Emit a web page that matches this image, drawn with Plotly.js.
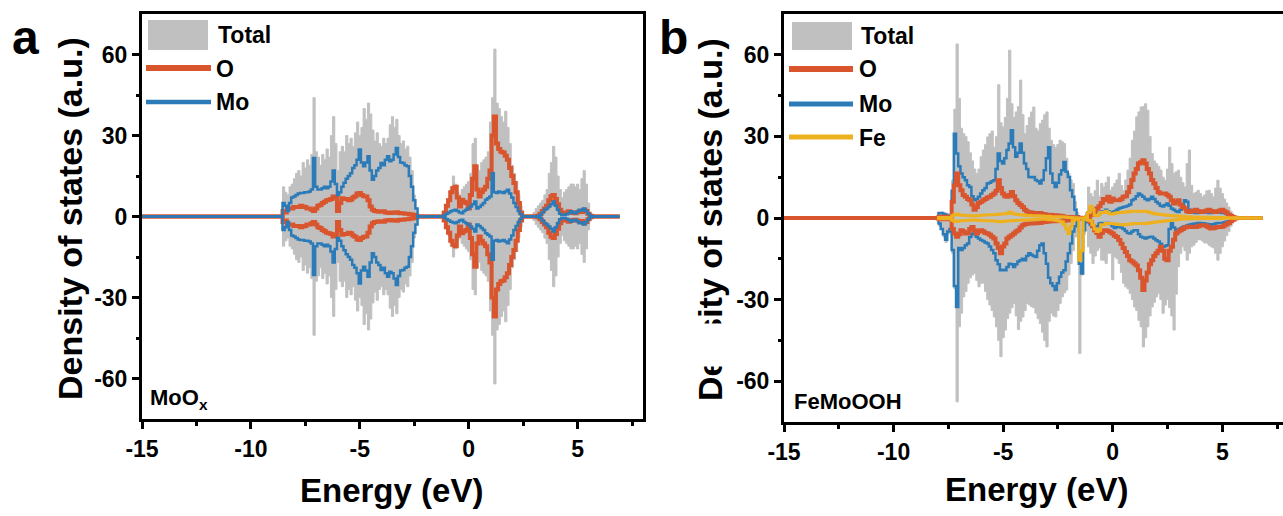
<!DOCTYPE html>
<html>
<head>
<meta charset="utf-8">
<script src="https://cdn.plot.ly/plotly-3.0.1.min.js"></script>
<style>
  html, body { margin: 0; padding: 0; background: #ffffff; }
  #chart { width: 1283px; height: 516px; }
</style>
</head>
<body>
<div id="chart"></div>
<script>
// ---------------- DATA ----------------
// Panel a: MoOx (spin-up values; spin-down is the mirror image in the figure)
const E_A = [
-8.6,-8.5,-8.4,-8.3,-8.2,-8.1,-8.0,-7.9,-7.8,-7.7,
-7.6,-7.5,-7.4,-7.3,-7.2,-7.1,-7.0,-6.9,-6.8,-6.7,
-6.6,-6.5,-6.4,-6.3,-6.2,-6.1,-6.0,-5.9,-5.8,-5.7,
-5.6,-5.5,-5.4,-5.3,-5.2,-5.1,-5.0,-4.9,-4.8,-4.7,
-4.6,-4.5,-4.4,-4.3,-4.2,-4.1,-4.0,-3.9,-3.8,-3.7,
-3.6,-3.5,-3.4,-3.3,-3.2,-3.1,-3.0,-2.9,-2.8,-2.7,
-2.6,-2.5,-2.4,-2.3,-2.2,-2.1,-2.0,-1.9,-1.8,-1.7,
-1.6,-1.5,-1.4,-1.3,-1.2,-1.1,-1.0,-0.9,-0.8,-0.7,
-0.6,-0.5,-0.4,-0.3,-0.2,-0.1,0.0,0.1,0.2,0.3,
0.4,0.5,0.6,0.7,0.8,0.9,1.0,1.1,1.2,1.3,
1.4,1.5,1.6,1.7,1.8,1.9,2.0,2.1,2.2,2.3,
2.4,2.5,2.6,2.7,2.8,2.9,3.0,3.1,3.2,3.3,
3.4,3.5,3.6,3.7,3.8,3.9,4.0,4.1,4.2,4.3,
4.4,4.5,4.6,4.7,4.8,4.9,5.0,5.1,5.2,5.3,
5.4,5.5,5.6,5.7];
const A_TOTAL = [
0,11,9,8,11,12,14,16,17,15,
20,18,21,19,23,44,24,22,19,23,
21,25,22,30,37,27,17,24,26,24,
30,27,29,26,31,35,30,33,40,36,
42,38,32,28,31,27,26,29,27,29,
34,37,33,36,30,27,28,25,26,22,
17,8,2,0,0,0,0,0,0,0,
0,0,0,0,0,1.5,4,7,11,15,
12,9,8,10,11,12,13,16,27,29,
19,17,20,21,22,24,35,44,62,42,
40,37,35,39,33,27,19,16,13,8,
4,0,0,0,0,0.5,1.5,3,4,5,
6,8,10,16,20,26,22,15,10,7,
9,10,11,12,12,11,12,10,14,17,
12,5,1,0];
const A_O = [
0,2,1.5,3,3,3,3.5,3.5,3.5,4,
3.7,3.5,3,3,2.5,2,3,4,4.3,5,
5.5,6,6.2,6.5,7.4,7,2,5,6.8,6.5,
6.5,6,6.2,7,7.5,8.5,8.7,8,7.5,7.4,
6,3.7,2.5,2,1.9,1.8,1.9,1.9,1.5,1.4,
1.3,1.5,1.4,1.6,1.3,1.2,1.2,1,1,0.8,
0.7,0.6,0.3,0,0,0,0,0,0,0,
0,0,0,0,0,1.5,4,6,9,10.5,
11,7,3.7,6.2,5.5,5,3,8,14,18.6,
10,7.4,9,10,11,14,17,30,37,27,
25,24,23.7,22.5,21,18,15,12.4,9,5,
1.5,0,0,0,0,0,0,0,0.3,1,
2,3,4,6,7.5,8,6.5,4.5,2.5,1.5,
1.2,1.5,1.9,1.6,1.3,1.2,1.6,1.9,1.7,2.5,
2,1,0.3,0];
const A_MO = [
0,5,4,2,5,7,7.4,8,8.5,8.7,
8.7,9,9,9.3,10,21.7,11,10,10,10.5,
11,10.5,11,13,17,12,8,9,11,12.5,
14,15,16,18,19,21,24.8,20,18.6,20,
22.3,17,13.6,15,17,18,19.8,19,21,22.3,
20.5,21,23,25.4,22,20,19.8,19,18.6,15,
11,6,3,0,0,0,0,0,0,0,
0,0,0,0,0,0.5,1,1.5,1.9,2.2,
2.5,2,1.5,1.2,2,2.5,3,3.7,4.5,5.6,
3,3.5,4.3,5,6.2,6.8,7.4,16,9,8.7,
9.3,9,8.7,9.3,9.9,8.5,7,5,3.5,2,
0.8,0,0,0,0,0,0,0,0.2,0.6,
1.5,2.5,3,3.7,4.5,5.6,4,2.5,1,0.6,
0.6,0.8,1.2,1.9,1.5,1.2,1.8,2.5,2.2,3,
2,1,0.3,0];

// Panel b: FeMoOOH (spin-up and spin-down)
const E_B = [
-8.0,-7.9,-7.8,-7.7,-7.6,-7.5,-7.4,-7.3,-7.2,-7.1,
-7.0,-6.9,-6.8,-6.7,-6.6,-6.5,-6.4,-6.3,-6.2,-6.1,
-6.0,-5.9,-5.8,-5.7,-5.6,-5.5,-5.4,-5.3,-5.2,-5.1,
-5.0,-4.9,-4.8,-4.7,-4.6,-4.5,-4.4,-4.3,-4.2,-4.1,
-4.0,-3.9,-3.8,-3.7,-3.6,-3.5,-3.4,-3.3,-3.2,-3.1,
-3.0,-2.9,-2.8,-2.7,-2.6,-2.5,-2.4,-2.3,-2.2,-2.1,
-2.0,-1.9,-1.8,-1.7,-1.6,-1.5,-1.4,-1.3,-1.2,-1.1,
-1.0,-0.9,-0.8,-0.7,-0.6,-0.5,-0.4,-0.3,-0.2,-0.1,
0.0,0.1,0.2,0.3,0.4,0.5,0.6,0.7,0.8,0.9,
1.0,1.1,1.2,1.3,1.4,1.5,1.6,1.7,1.8,1.9,
2.0,2.1,2.2,2.3,2.4,2.5,2.6,2.7,2.8,2.9,
3.0,3.1,3.2,3.3,3.4,3.5,3.6,3.7,3.8,3.9,
4.0,4.1,4.2,4.3,4.4,4.5,4.6,4.7,4.8,4.9,
5.0,5.1,5.2,5.3,5.4,5.5,5.6,5.7];
const B_TOTAL_UP = [
0,1.5,2.2,2,1.8,1.5,1,14,40,64,
44,33,31,30,28,24,21,18,16.4,18,
22.5,25,27,29.8,31,32,26,30,49,35,
33.5,37,44,61.7,42,37,39,41,50.7,38,
31,34,37,39,40.8,33,32,34.7,36,38,
39,33,28.6,27,26,27,28.6,28,27.4,22,
16.4,14,12.7,6,2,0.5,0.3,0.2,2,11.4,
9,7.8,10,13.9,8,12.7,11.4,13,15.1,10.2,
11.4,12.7,14,16.4,12,10.2,14,17.6,22,28.6,
32,37.2,39,40.8,41,42,39.6,30,23.7,21,
20,19,17.6,15,13.9,18,26,20,16.4,17,
17.6,15,13,11.4,20,25,12,9,9.5,10.2,
9,7.8,8.5,10,10.2,9,7.8,11,13.9,11,
9,7,5.5,4,2.5,0.5,0.2,0];
const B_TOTAL_DN = [
0,-3,-3.5,-7,-9,-6,-4.5,-13,-26,-67.6,
-40,-35,-29,-27,-24,-22,-21,-20.4,-23,-25.3,
-24,-24,-27,-30,-32,-34,-36.4,-40,-45,-51,
-44,-41.2,-37,-35,-33,-31.4,-36,-41,-38,-36.4,
-34,-31.4,-32,-32.6,-33,-35,-37,-38.8,-42,-45,
-47.4,-38,-35,-36,-36.4,-34,-31.4,-29,-27.5,-26.5,
-21,-16.7,-12,-7,-5,-49.8,-21,-6,-2,-10.6,
-13,-16.7,-14,-12,-11,-15.5,-15.5,-16.7,-13,-13,
-22.7,-14.3,-15,-16.7,-20,-24,-25.3,-26,-27.7,-30,
-32.7,-34,-37.6,-40,-47.4,-44,-40,-36,-32.7,-31,
-29,-27.7,-30,-35,-32,-30,-33,-36,-41.2,-28,
-17.9,-13,-10.6,-12,-15.5,-13,-10.6,-10,-9,-8,
-8,-8.5,-9.2,-9.2,-10,-10.6,-11,-13,-15.5,-13,
-10.6,-8.5,-6.5,-5,-3,-0.6,-0.2,0];
const B_O_UP = [
0,0.5,0.5,0.5,0.5,0.5,0.5,6,12,16.4,
12,10.2,8.5,7.8,7,6.5,5,3,4,5.5,
6,6.5,7,7.5,7.8,8.5,9,10,13.9,11,
9,8,7.8,8.5,9.6,8,6.5,5.5,4.8,4,
3,2.4,2.1,2,1.8,1.8,1.8,1.8,1.5,1.4,
1.2,1.2,1.1,1,1,0.9,0.8,0.7,0.5,0.4,
0.4,0.4,0.3,0.3,0.2,0.1,0,0,0,0.5,
1,1.2,2.5,3.5,4.3,5.5,7,6.5,7.8,6,
7.2,6.5,6.5,6.5,7,7.8,8,9.5,11.4,14,
16.4,18,20,20.5,21.2,20,18,16.4,14,12.7,
11,9.5,9,9,9,8.5,7.8,6.5,5.3,6,
6.5,5,4,3.5,2.5,2.2,2.5,2.8,3,2.6,
2.3,2.2,2.5,2.8,3,2.6,2.3,2.2,2.5,2.8,
3,2.5,2,1.2,0.8,0.4,0.1,0];
const B_O_DN = [
0,-0.5,-0.5,-0.5,-0.5,-0.5,-0.5,-4,-5.7,-6.9,
-6,-4.5,-5,-5.7,-5.5,-4,-3.3,-4.5,-5.7,-5,
-4.5,-5,-5.5,-5.7,-6.2,-6.9,-7.5,-9.4,-11,-13,
-10.5,-9.4,-7.5,-6.9,-6.3,-5.7,-5,-4.5,-3.5,-2.7,
-2.3,-2.1,-2,-2,-1.9,-1.9,-1.8,-1.8,-1.6,-1.5,
-1.4,-1.3,-1.2,-1.2,-1.2,-1.1,-1.1,-1,-1,-0.9,
-0.8,-0.7,-0.6,-0.5,-0.3,-0.2,0,0,0,-0.5,
-1.5,-3,-4.5,-5.5,-6.9,-5.5,-4.5,-4.5,-4.8,-5.2,
-5.7,-6.5,-7,-8.1,-9.5,-11,-12.5,-14,-15.5,-16,
-16.7,-17.5,-19.2,-22,-26.5,-23,-20,-17,-15.5,-14,
-13,-12,-10.6,-12,-15,-15.5,-12,-10.6,-8,-5.7,
-5,-4.5,-4,-3.5,-3.3,-3.2,-3.3,-3.3,-3.3,-3,
-2.8,-2.7,-2.7,-3,-3.5,-3.9,-3.8,-3.5,-3.3,-3.3,
-3.2,-2.8,-2.3,-1.8,-1.2,-0.6,-0.2,0];
const B_MO_UP = [
0,1.8,1.8,1.5,1.2,0.8,0.3,10,31,23.7,
19,16.4,15,13.9,12,11.4,8,6.5,7,7.8,
9,10.2,11,12.7,13,13.5,13.9,18,23.7,21,
20,22,25,27.4,32.3,26,22.5,24,27.4,24,
20,18,15.1,15,15.1,14,13.5,12.7,14,17.6,
22,26,16.4,13,11.4,13,16,17.6,20.6,17,
15.1,10.2,7.8,3,0.6,0.3,0.2,0,0.5,1.5,
3,3,2,1,1.5,2.4,2.4,3,2.5,2,
2.2,2.5,3,3.5,3.8,4,4.2,4.5,5,6.5,
7,8,9,8.5,7.8,7,6.5,7,7.8,7,
6,5.3,4.5,4.2,4.8,5.3,4.5,3.5,3,2.5,
2.2,3,5,6.5,6,3,2.2,2,1.8,1.8,
1.9,2,2.2,2,1.8,1.8,2,2.2,2.2,2,
1.8,1.8,1.5,1.2,0.9,0.4,0.1,0];
const B_MO_DN = [
0,-2,-4,-6,-8,-5,-4,-11.8,-25,-32.7,
-11,-11.8,-11,-10,-9.4,-7,-5.7,-6,-6.9,-7.5,
-8.1,-8.5,-9,-9.4,-10.5,-11.8,-13,-15.5,-17,-19.2,
-19,-19.2,-18,-16.8,-17,-18,-17,-16,-15.5,-15,
-15.5,-14,-13,-13.5,-14,-14.3,-12,-10,-9.4,-13,
-16.8,-22,-24,-25,-26.5,-24,-21.6,-20,-19.2,-16,
-13,-9.4,-5,-3,-1,-16.8,-20.4,-4.5,-0.5,-1.5,
-2.5,-3,-3,-3,-2,-1.8,-1.8,-1.8,-1.8,-2.2,
-3,-3.7,-3.3,-3.3,-3.5,-4,-4.8,-5.5,-5.7,-5,
-4.5,-4.5,-6,-6.9,-7.2,-7.5,-7.2,-7,-6.9,-7.5,
-8.2,-8.6,-9.5,-10.6,-10.3,-10,-4,-1.8,-3.5,-4.5,
-4.2,-3.8,-3.3,-3,-2.8,-2.5,-2.3,-2.1,-2,-1.8,
-1.8,-1.9,-2,-2.2,-2.3,-2.5,-2.3,-2,-1.8,-1.8,
-1.8,-1.6,-1.4,-1.2,-0.8,-0.4,-0.1,0];
const B_FE_UP = [
0,0.2,0.2,0.2,0.2,0.2,0.2,0.8,1.2,1.5,
1.2,1,1,0.9,0.9,0.8,0.8,0.7,0.8,0.9,
1,1,1.1,1.1,1.2,1.2,1.2,1.3,1.4,1.5,
1.5,1.6,1.7,2.2,1.8,1.5,1.4,1.3,1.2,1.1,
1,0.9,0.9,0.8,0.8,0.8,0.8,0.7,0.7,0.6,
0.6,0.6,0.5,0.5,0.5,0.5,0.5,0.5,0.4,0.3,
0.2,0.2,0.1,0.1,0,0,0,0,0.5,2,
4.3,3,1,0.8,1.5,2,2,2.5,2,1.5,
1.5,1.7,1.9,2,2,2.1,2.2,2.3,2.4,2.5,
2.5,2.5,2.4,2.4,2.5,2.5,2.3,2,1.8,1.6,
1.5,1.4,1.3,1.2,1.1,1,0.9,0.8,0.8,0.7,
0.7,0.6,0.6,0.5,0.5,0.5,0.4,0.4,0.4,0.3,
0.3,0.3,0.3,0.3,0.3,0.2,0.2,0.2,0.2,0.2,
0.2,0.2,0.1,0.1,0.1,0.1,0,0];
const B_FE_DN = [
0,-0.3,-0.3,-0.3,-0.3,-0.3,-0.3,-0.8,-1.2,-1.3,
-1.1,-1,-0.9,-0.9,-0.8,-0.8,-0.7,-0.7,-0.8,-0.8,
-0.9,-0.9,-1,-1,-1,-1.1,-1.1,-1.2,-1.3,-1.4,
-1.3,-1.2,-1.1,-1,-1,-0.9,-0.9,-0.8,-0.8,-0.7,
-0.7,-0.7,-0.6,-0.6,-0.6,-0.6,-0.5,-0.5,-0.5,-0.5,
-0.5,-0.6,-0.6,-0.7,-0.8,-1,-1.2,-1.5,-2.5,-4,
-5.7,-3,-1,-0.5,-0.3,-15.5,-12,-0.5,-0.3,-0.8,
-1,-2.5,-4,-5,-4.5,-2.5,-2.5,-2,-2,-2,
-2,-2.2,-2.3,-2.4,-2.5,-2.5,-2.4,-2.3,-2.2,-2.1,
-2,-2,-2,-2,-2,-2,-1.9,-1.8,-1.7,-1.6,
-1.5,-1.4,-1.3,-1.2,-1.1,-1,-0.9,-0.8,-0.7,-0.6,
-0.5,-0.5,-0.4,-0.4,-0.4,-0.3,-0.3,-0.3,-0.3,-0.3,
-0.2,-0.2,-0.2,-0.2,-0.2,-0.2,-0.2,-0.2,-0.2,-0.2,
-0.2,-0.1,-0.1,-0.1,-0.1,-0.1,0,0];

const X_START = -15;          // flat zero segment starts here
const A_X_END = 6.93, B_X_END = 6.83;

const X_TICKS = [-15, -10, -5, 0, 5];
const X_TICK_TEXT = ['-15', '-10', '-5', '0', '5'];
const X_MINOR = [-12.5, -7.5, -2.5, 2.5, 7.5];
const Y_TICKS = [-60, -30, 0, 30, 60];
const Y_TICK_TEXT = ['-60', '-30', '0', '30', '60'];
const Y_MINOR = [-45, -15, 15, 45];

const LEGEND_A = ['Total', 'O', 'Mo'];
const LEGEND_B = ['Total', 'O', 'Mo', 'Fe'];

// ---------------- CHECKS ----------------
[[A_TOTAL,'A_TOTAL'],[A_O,'A_O'],[A_MO,'A_MO']].forEach(([a,n]) => {
  if (a.length !== E_A.length) throw new Error(n + ' length ' + a.length + ' != ' + E_A.length);
});
[[B_TOTAL_UP,'B_TOTAL_UP'],[B_TOTAL_DN,'B_TOTAL_DN'],[B_O_UP,'B_O_UP'],[B_O_DN,'B_O_DN'],
 [B_MO_UP,'B_MO_UP'],[B_MO_DN,'B_MO_DN'],[B_FE_UP,'B_FE_UP'],[B_FE_DN,'B_FE_DN']].forEach(([a,n]) => {
  if (a.length !== E_B.length) throw new Error(n + ' length ' + a.length + ' != ' + E_B.length);
});

// ---------------- STYLE ----------------
const W = 1283, H = 516;
const GREY = '#C0C0C0', ORANGE = '#D9552E', BLUE = '#2B7BB9', YELLOW = '#EDB120';
const FONT = 'Liberation Sans, Arial, sans-serif';
const px = v => v / W;
const py = v => 1 - v / H;

function series(E, vals, xEnd, withStart) {
  const x = (withStart ? [X_START] : []).concat(E, [xEnd]);
  const y = (withStart ? [0] : []).concat(vals, [0]);
  return {x, y};
}
const neg = a => a.map(v => -v);

function fillTrace(d, xa, ya) {
  return {x: d.x, y: d.y, xaxis: xa, yaxis: ya, type: 'scatter', mode: 'lines',
    fill: 'tozeroy', fillcolor: GREY, line: {color: GREY, width: 1, shape: 'hvh'}, hoverinfo: 'skip', showlegend: false};
}
function lineTrace(d, xa, ya, color, width) {
  return {x: d.x, y: d.y, xaxis: xa, yaxis: ya, type: 'scatter', mode: 'lines',
    line: {color: color, width: width, shape: 'hvh'}, hoverinfo: 'skip', showlegend: false};
}

const traces = [
  // panel a
  fillTrace(series(E_A, A_TOTAL, A_X_END, true), 'x', 'y'),
  fillTrace(series(E_A, neg(A_TOTAL), A_X_END, true), 'x', 'y'),
  lineTrace(series(E_A, A_O, A_X_END, true), 'x', 'y', ORANGE, 4),
  lineTrace(series(E_A, neg(A_O), A_X_END, true), 'x', 'y', ORANGE, 4),
  lineTrace(series(E_A, A_MO, A_X_END, true), 'x', 'y', BLUE, 2.5),
  lineTrace(series(E_A, neg(A_MO), A_X_END, true), 'x', 'y', BLUE, 2.5),
  // panel b
  fillTrace(series(E_B, B_TOTAL_UP, B_X_END, true), 'x2', 'y2'),
  fillTrace(series(E_B, B_TOTAL_DN, B_X_END, true), 'x2', 'y2'),
  lineTrace(series(E_B, B_MO_UP, B_X_END, true), 'x2', 'y2', BLUE, 2.5),
  lineTrace(series(E_B, B_MO_DN, B_X_END, true), 'x2', 'y2', BLUE, 2.5),
  lineTrace(series(E_B, B_O_UP, B_X_END, true), 'x2', 'y2', ORANGE, 4),
  lineTrace(series(E_B, B_O_DN, B_X_END, true), 'x2', 'y2', ORANGE, 4),
  lineTrace(series(E_B, B_FE_UP, B_X_END, false), 'x2', 'y2', YELLOW, 3),
  lineTrace(series(E_B, B_FE_DN, B_X_END, false), 'x2', 'y2', YELLOW, 3)
];

const tickFont = {family: FONT, size: 23, color: '#000', weight: 'bold'};
function xAxis(domain, range, anchor) {
  return {domain, range, anchor, showline: true, linewidth: 3, linecolor: '#000', mirror: true,
    showgrid: false, zeroline: false, ticks: 'outside', ticklen: 7, tickwidth: 3, tickcolor: '#000',
    tickvals: X_TICKS, ticktext: X_TICK_TEXT, tickfont: tickFont, ticklabelstandoff: 0,
    minor: {tickvals: X_MINOR, ticks: 'outside', ticklen: 3.5, tickwidth: 3, tickcolor: '#000', showgrid: false},
    fixedrange: true};
}
function yAxis(domain, anchor, mirror) {
  return {domain, range: [-75, 75], anchor, showline: true, linewidth: 3, linecolor: '#000', mirror,
    showgrid: false, zeroline: false, ticks: 'outside', ticklen: 7, tickwidth: 3, tickcolor: '#000',
    tickvals: Y_TICKS, ticktext: Y_TICK_TEXT, tickfont: tickFont, ticklabelstandoff: 0,
    minor: {tickvals: Y_MINOR, ticks: 'outside', ticklen: 3.5, tickwidth: 3, tickcolor: '#000', showgrid: false},
    fixedrange: true};
}

function txt(text, x, y, size, opts) {
  return Object.assign({text, x: px(x), y: py(y), xref: 'paper', yref: 'paper', showarrow: false,
    xanchor: 'left', yanchor: 'middle', font: {family: FONT, size, color: '#000', weight: 'bold'}}, opts || {});
}

const shapes = [];
const annotations = [];

function legend(labels, x0, rect, lineYs, textX, textYs, lineW) {
  shapes.push({type: 'rect', xref: 'paper', yref: 'paper', x0: px(rect[0]), x1: px(rect[1]),
    y0: py(rect[2]), y1: py(rect[3]), fillcolor: GREY, line: {width: 0}});
  annotations.push(txt(labels[0], textX, textYs[0], 23));
  const colors = [ORANGE, BLUE, YELLOW];
  for (let i = 1; i < labels.length; i++) {
    shapes.push({type: 'line', xref: 'paper', yref: 'paper', x0: px(x0[0]), x1: px(x0[1]),
      y0: py(lineYs[i - 1]), y1: py(lineYs[i - 1]), line: {color: colors[i - 1], width: lineW[i - 1]}});
    annotations.push(txt(labels[i], textX - 2, textYs[i], 23));
  }
}
legend(LEGEND_A, [146, 211], [148, 208, 20, 50], [68, 102], 216, [35, 69, 102], [6, 4.5]);
legend(LEGEND_B, [789, 853], [792, 852, 22, 50], [69, 104, 137], 859, [36, 69, 104, 137.5], [6, 5, 5]);

// panel letters
annotations.push(txt('a', 10, 9, 48, {yanchor: 'top'}));
annotations.push(txt('b', 657, 9, 48, {yanchor: 'top'}));
// sample labels
annotations.push(txt('MoO<sub>x</sub>', 148, 399, 22));
annotations.push(txt('FeMoOOH', 792, 401, 22));
// axis titles
annotations.push(txt('Energy (eV)', 392, 490, 33, {xanchor: 'center'}));
annotations.push(txt('Energy (eV)', 1036, 489, 33, {xanchor: 'center'}));
annotations.push(txt('Density of states (a.u.)', 70, 219, 34, {xanchor: 'center', textangle: -90}));
annotations.push(txt('Density of states (a.u.)', 710, 220, 34, {xanchor: 'center', textangle: -90}));
// white patch hiding part of panel b's y title, as in the reference image
annotations.push({text: '&nbsp;', x: px(711), y: py(345), xref: 'paper', yref: 'paper', showarrow: false,
  xanchor: 'center', yanchor: 'middle', width: 48, height: 42, bgcolor: '#ffffff', borderpad: 0,
  font: {size: 10}});

const layout = {
  width: W, height: H,
  margin: {l: 0, r: 0, t: 0, b: 0, pad: 0},
  paper_bgcolor: '#ffffff', plot_bgcolor: '#ffffff',
  showlegend: false,
  xaxis: xAxis([px(142), px(643)], [-15, 8], 'y'),
  yaxis: yAxis([py(419), py(14)], 'x', true),
  xaxis2: xAxis([px(784), 1], [-15, 7.77], 'y2'),
  yaxis2: yAxis([py(422), py(14)], 'x2', false),
  shapes, annotations
};

Plotly.newPlot('chart', traces, layout, {displayModeBar: false, staticPlot: true});
</script>
</body>
</html>
